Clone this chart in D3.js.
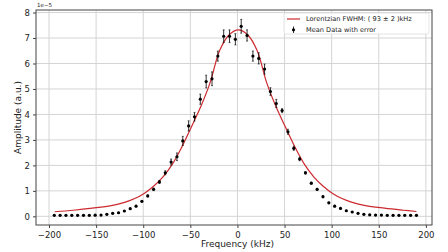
<!DOCTYPE html>
<html>
<head>
<meta charset="utf-8">
<script src="https://cdn.jsdelivr.net/npm/d3@7"></script>
<style>
  body { margin: 0; background: #fff; }
  text { font-family: "DejaVu Sans", sans-serif; }
</style>
</head>
<body>
<div id="chart-area"></div>
<script>
// measured data (amplitude in units of 1e-5)
const freq = [-194.4, -188.2, -182.0, -175.8, -169.6, -163.4, -157.2, -151.0, -144.8, -138.6,
  -132.4, -126.2, -120.0, -113.8, -107.6, -101.4, -95.2, -89.0, -82.8, -76.6,
  -70.4, -64.2, -58.0, -51.8, -45.6, -39.4, -33.2, -27.0, -20.8, -14.6,
  -8.4, -2.2, 4.0, 10.2, 16.4, 22.6, 28.8, 35.0, 41.2, 47.4,
  53.6, 59.8, 66.0, 72.2, 78.4, 84.6, 90.8, 97.0, 103.2, 109.4,
  115.6, 121.8, 128.0, 134.2, 140.4, 146.6, 152.8, 159.0, 165.2, 171.4,
  177.6, 183.8, 190.0];
const amp = [0.04, 0.04, 0.04, 0.04, 0.04, 0.04, 0.04, 0.045, 0.05, 0.08,
  0.12, 0.14, 0.21, 0.30, 0.40, 0.59, 0.80, 1.06, 1.35, 1.71,
  2.13, 2.34, 2.96, 3.55, 3.91, 4.60, 5.29, 5.40, 6.29, 7.07,
  7.07, 6.95, 7.46, 7.10, 6.29, 6.20, 5.78, 4.90, 4.43, 4.15,
  3.32, 2.67, 2.25, 1.71, 1.30, 1.06, 0.77, 0.53, 0.40, 0.31,
  0.22, 0.17, 0.12, 0.08, 0.06, 0.05, 0.05, 0.04, 0.04, 0.04,
  0.04, 0.04, 0.04];
const err = [0.02, 0.02, 0.02, 0.02, 0.02, 0.02, 0.02, 0.02, 0.02, 0.02,
  0.02, 0.02, 0.02, 0.02, 0.03, 0.03, 0.04, 0.05, 0.06, 0.08,
  0.12, 0.15, 0.18, 0.20, 0.17, 0.20, 0.25, 0.27, 0.20, 0.25,
  0.25, 0.22, 0.27, 0.22, 0.20, 0.22, 0.20, 0.15, 0.16, 0.08,
  0.10, 0.08, 0.07, 0.05, 0.04, 0.04, 0.04, 0.03, 0.03, 0.02,
  0.02, 0.02, 0.02, 0.02, 0.02, 0.02, 0.02, 0.02, 0.02, 0.02,
  0.02, 0.02, 0.02];

// lorentzian fit curve
const fitX = [-194, -174, -154, -134, -119, -109, -99, -89, -79, -69, -59, -49, -39, -29, -19, -9,
  1, 11, 21, 31, 41, 51, 61, 71, 81, 91, 101, 111, 121, 136, 156, 176, 190];
const fitY = [0.18, 0.24, 0.32, 0.42, 0.56, 0.70, 0.90, 1.18, 1.55, 2.05, 2.72, 3.50, 4.30, 5.25, 6.50, 7.12,
  7.32, 7.12, 6.50, 5.25, 4.30, 3.50, 2.72, 2.05, 1.55, 1.18, 0.90, 0.70, 0.56, 0.42, 0.32, 0.24, 0.19];

const xTicks = [-200, -150, -100, -50, 0, 50, 100, 150, 200];
const yTicks = [0, 1, 2, 3, 4, 5, 6, 7, 8];

const width = 448;
const height = 252;
const margin = {left: 36, right: 16, top: 10, bottom: 27};
const w = width - margin.left - margin.right;
const h = height - margin.top - margin.bottom;

const svg = d3.select("#chart-area")
    .append("svg")
    .attr("width", width)
    .attr("height", height);

const g = svg.append("g")
    .attr("transform", "translate(" + margin.left + "," + margin.top + ")");

// scales
const x = d3.scaleLinear()
    .domain([-213.8, 206.5])
    .range([0, w]);

const y = d3.scaleLinear()
    .domain([-0.34, 8.1])
    .range([h, 0]);

// grid
g.append("g")
    .selectAll("line")
    .data(xTicks)
    .enter().append("line")
    .attr("x1", d => x(d)).attr("x2", d => x(d))
    .attr("y1", 0).attr("y2", h)
    .attr("stroke", "#d4d4d4")
    .attr("stroke-width", 1);

g.append("g")
    .selectAll("line")
    .data(yTicks)
    .enter().append("line")
    .attr("y1", d => y(d)).attr("y2", d => y(d))
    .attr("x1", 0).attr("x2", w)
    .attr("stroke", "#d4d4d4")
    .attr("stroke-width", 1);

// axes
const xAxis = d3.axisBottom(x)
    .tickValues(xTicks)
    .tickSize(3)
    .tickPadding(4)
    .tickFormat(d => d3.format("")(d).replace("-", "\u2212"));

const yAxis = d3.axisLeft(y)
    .tickValues(yTicks)
    .tickSize(3)
    .tickPadding(3);

const xAxisGroup = g.append("g")
    .attr("transform", "translate(0," + h + ")")
    .call(xAxis);

const yAxisGroup = g.append("g")
    .call(yAxis);

g.selectAll(".domain").remove();
g.selectAll(".tick line").attr("stroke", "#444");
g.selectAll(".tick text")
    .attr("fill", "#222")
    .attr("font-size", "8.5px")
    .style("font-family", "DejaVu Sans");

// frame
g.append("rect")
    .attr("width", w)
    .attr("height", h)
    .attr("fill", "none")
    .attr("stroke", "#444")
    .attr("stroke-width", 1);

// fit line
const line = d3.line()
    .x((d, i) => x(fitX[i]))
    .y(d => y(d))
    .curve(d3.curveCatmullRom);

g.append("path")
    .datum(fitY)
    .attr("d", line)
    .attr("fill", "none")
    .attr("stroke", "#cc2a2f")
    .attr("stroke-width", 1.2);

// error bars
const pts = g.append("g");
pts.selectAll(".eb")
    .data(amp)
    .enter().append("line")
    .attr("x1", (d, i) => x(freq[i])).attr("x2", (d, i) => x(freq[i]))
    .attr("y1", (d, i) => y(d - err[i])).attr("y2", (d, i) => y(d + err[i]))
    .attr("stroke", "#000")
    .attr("stroke-width", 0.8);

pts.selectAll(".capTop")
    .data(amp)
    .enter().append("line")
    .attr("x1", (d, i) => x(freq[i]) - 1).attr("x2", (d, i) => x(freq[i]) + 1)
    .attr("y1", (d, i) => y(d + err[i])).attr("y2", (d, i) => y(d + err[i]))
    .attr("stroke", "#000")
    .attr("stroke-width", 0.6);

pts.selectAll(".capBot")
    .data(amp)
    .enter().append("line")
    .attr("x1", (d, i) => x(freq[i]) - 1).attr("x2", (d, i) => x(freq[i]) + 1)
    .attr("y1", (d, i) => y(d - err[i])).attr("y2", (d, i) => y(d - err[i]))
    .attr("stroke", "#000")
    .attr("stroke-width", 0.6);

pts.selectAll("circle")
    .data(amp)
    .enter().append("circle")
    .attr("cx", (d, i) => x(freq[i]))
    .attr("cy", d => y(d))
    .attr("r", 1.6)
    .attr("fill", "#000");

// offset text
g.append("text")
    .attr("x", 1)
    .attr("y", -3)
    .attr("font-size", "5.5px")
    .attr("fill", "#222")
    .text("1e\u22125");

// axis labels
g.append("text")
    .attr("x", x(0))
    .attr("y", h + 21.5)
    .attr("font-size", "9px")
    .attr("text-anchor", "middle")
    .attr("fill", "#222")
    .text("Frequency (kHz)");

g.append("text")
    .attr("x", -h / 2)
    .attr("y", -15.5)
    .attr("font-size", "9px")
    .attr("text-anchor", "middle")
    .attr("transform", "rotate(-90)")
    .attr("fill", "#222")
    .text("Amplitude (a.u.)");

// legend
const legend = g.append("g")
    .attr("transform", "translate(" + (w - 148) + ",3)");

legend.append("rect")
    .attr("width", 145)
    .attr("height", 21)
    .attr("rx", 1.5)
    .attr("fill", "#fff")
    .attr("fill-opacity", 0.85)
    .attr("stroke", "#ddd")
    .attr("stroke-width", 0.8);

legend.append("line")
    .attr("x1", 3).attr("x2", 16)
    .attr("y1", 6).attr("y2", 6)
    .attr("stroke", "#cc2a2f")
    .attr("stroke-width", 1.2);

legend.append("text")
    .attr("x", 22)
    .attr("y", 8.3)
    .attr("font-size", "6.6px")
    .attr("fill", "#222")
    .text("Lorentzian FWHM: ( 93 \u00b1 2 )kHz");

legend.append("line")
    .attr("x1", 9.5).attr("x2", 9.5)
    .attr("y1", 13.5).attr("y2", 20)
    .attr("stroke", "#000")
    .attr("stroke-width", 0.8);

legend.append("circle")
    .attr("cx", 9.5)
    .attr("cy", 16.8)
    .attr("r", 1.6)
    .attr("fill", "#000");

legend.append("text")
    .attr("x", 22)
    .attr("y", 19)
    .attr("font-size", "6.6px")
    .attr("fill", "#222")
    .text("Mean Data with error");
</script>
</body>
</html>
